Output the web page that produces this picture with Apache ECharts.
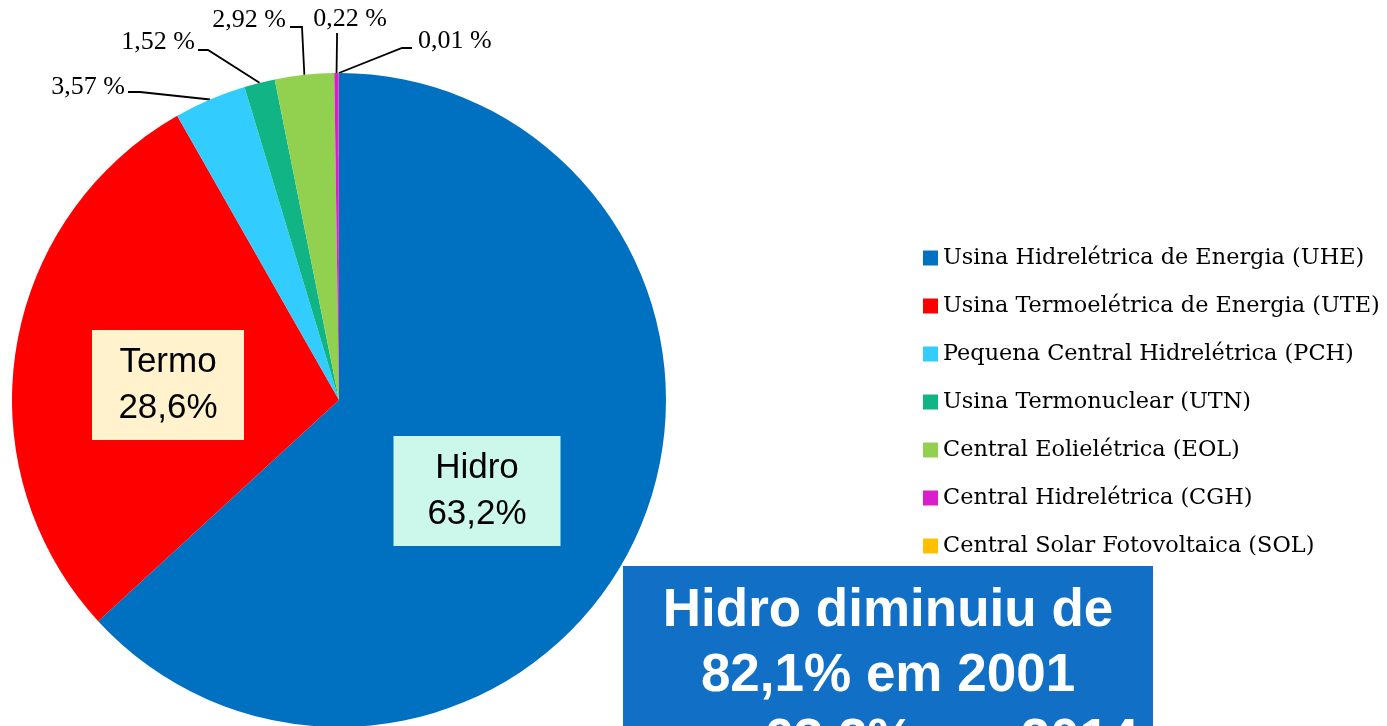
<!DOCTYPE html>
<html><head><meta charset="utf-8">
<script src="https://cdn.jsdelivr.net/npm/echarts@6/dist/echarts.min.js"></script>
<style>html,body{margin:0;padding:0;background:#fff}#c{width:1387px;height:726px}</style>
</head><body><div id="c"></div>
<script>
const categories = [
  'Usina Hidrelétrica de Energia (UHE)',
  'Usina Termoelétrica de Energia (UTE)',
  'Pequena Central Hidrelétrica (PCH)',
  'Usina Termonuclear (UTN)',
  'Central Eolielétrica (EOL)',
  'Central Hidrelétrica (CGH)',
  'Central Solar Fotovoltaica (SOL)'
];
const shortNames = ['Hidro', 'Termo', 'PCH', 'UTN', 'EOL', 'CGH', 'SOL'];
const values = [63.2, 28.6, 3.57, 1.52, 2.92, 0.22, 0.01];
const colors = ['#0070c0', '#ff0000', '#33ccff', '#11b585', '#92d050', '#d91ecb', '#ffc000'];
const noteLines = ['Hidro diminuiu de', '82,1% em 2001', 'para 63,2% em 2014'];

const fmt = v => String(v).replace('.', ',');

// label placement (layout only)
const boxLabelPos = {
  0: { x: 477, y: 491, bg: '#ccf8ec', w: 147 },
  1: { x: 168, y: 385, bg: '#fff2cc', w: 132 }
};
const outsideLabelPos = {
  2: { x: 125, y: 87, align: 'right', elbow: [140, 92], end: [128, 92] },
  3: { x: 195, y: 42, align: 'right', elbow: [208, 50], end: [198, 50] },
  4: { x: 286, y: 20, align: 'right', elbow: [302, 27], end: [290, 27] },
  5: { x: 350, y: 19, align: 'center', elbow: [337, 40], end: [337, 33] },
  6: { x: 418, y: 41, align: 'left', elbow: [402, 48], end: [412, 48] }
};

const seriesData = categories.map((name, i) => {
  const item = { name, value: values[i], itemStyle: { color: colors[i] } };
  if (boxLabelPos[i]) {
    item.label = {
      show: true, position: 'inside',
      formatter: shortNames[i] + '\n' + fmt(values[i]) + '%',
      fontFamily: 'Liberation Sans', fontSize: 35, lineHeight: 46, color: '#000',
      backgroundColor: boxLabelPos[i].bg, padding: [9, 10],
      width: boxLabelPos[i].w, align: 'center'
    };
    item.labelLine = { show: false };
  } else {
    item.label = {
      show: true, position: 'outside',
      formatter: fmt(values[i]) + ' %',
      fontFamily: 'Liberation Serif', fontSize: 26, color: '#000'
    };
    item.labelLine = { show: true, lineStyle: { color: '#000', width: 1.8 } };
  }
  return item;
});

const chart = echarts.init(document.getElementById('c'), null, { renderer: 'canvas' });
chart.setOption({
  animation: false,
  backgroundColor: '#fff',
  legend: {
    orient: 'vertical', left: 918, top: 239,
    itemWidth: 15, itemHeight: 15, itemGap: 20,
    icon: 'rect',
    data: categories,
    textStyle: { fontFamily: 'DejaVu Serif', fontSize: 22.4, color: '#000', lineHeight: 28 },
    selectedMode: false
  },
  series: [{
    type: 'pie',
    center: [339, 400],
    radius: 327,
    startAngle: 90,
    clockwise: true,
    avoidLabelOverlap: false,
    minShowLabelAngle: 0,
    silent: true,
    data: seriesData,
    labelLayout: function (p) {
      const i = p.dataIndex;
      if (boxLabelPos[i]) {
        return { x: boxLabelPos[i].x, y: boxLabelPos[i].y, align: 'center', verticalAlign: 'middle' };
      }
      const o = outsideLabelPos[i];
      if (!o) return {};
      const start = (p.labelLinePoints && p.labelLinePoints[0]) || o.elbow;
      return {
        x: o.x, y: o.y, align: o.align, verticalAlign: 'middle',
        labelLinePoints: [start, o.elbow, o.end]
      };
    }
  }],
  graphic: [
    { type: 'rect', z: 100, shape: { x: 623, y: 566, width: 530, height: 200 }, style: { fill: '#1170c6' } },
    { type: 'text', z: 101, style: {
      text: noteLines.join('\n'), x: 888, y: 579,
      fontFamily: 'Liberation Sans', fontWeight: 'bold', fontSize: 53, lineHeight: 65,
      fill: '#fff', align: 'center', verticalAlign: 'top'
    } }
  ]
});
</script>
</body></html>
